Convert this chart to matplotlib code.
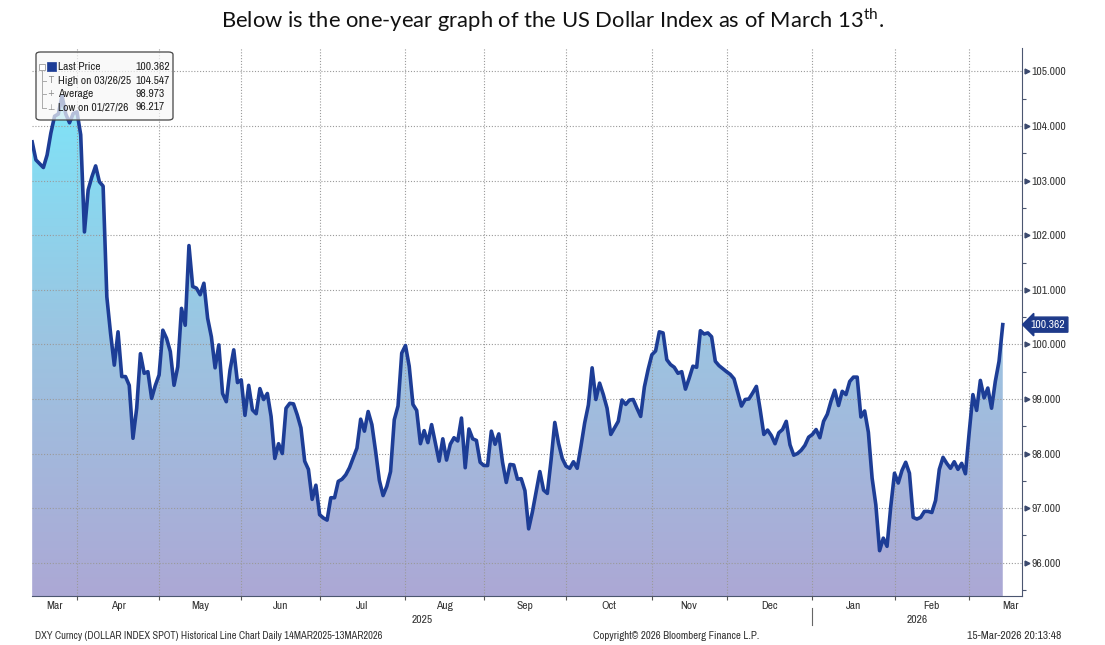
import numpy as np
import pandas as pd
import matplotlib
matplotlib.use("Agg")
import matplotlib.pyplot as plt
from matplotlib import font_manager as fm
from matplotlib.colors import LinearSegmentedColormap
from matplotlib.patches import FancyBboxPatch
from matplotlib.lines import Line2D

# trading-day number (0 = 14 Mar 2025) and DXY close
day = [0, 1, 3, 4, 5, 6, 7, 8, 9, 10, 11, 12, 13, 14, 15, 16, 17, 18, 19, 20,
       21, 22, 23, 24, 25, 26, 27, 28, 29, 30, 31, 32, 33, 34, 35, 36, 37, 38, 39, 40,
       41, 42, 43, 44, 45, 46, 47, 48, 49, 50, 51, 52, 53, 54, 55, 56, 57, 58, 59, 60,
       61, 62, 63, 64, 65, 66, 67, 68, 69, 70, 71, 72, 73, 74, 75, 76, 77, 78, 79, 80,
       81, 82, 83, 84, 85, 86, 87, 88, 89, 90, 91, 92, 93, 94, 95, 96, 97, 98, 99, 100,
       101, 102, 103, 104, 105, 106, 107, 108, 109, 110, 111, 112, 113, 114, 115, 116, 117, 118, 119, 120,
       121, 122, 123, 124, 125, 126, 127, 128, 129, 130, 131, 132, 133, 134, 135, 136, 137, 138, 139, 140,
       141, 142, 143, 144, 145, 146, 147, 148, 149, 150, 151, 152, 153, 154, 155, 156, 157, 158, 159, 160,
       161, 162, 163, 164, 165, 166, 167, 168, 169, 170, 171, 172, 173, 174, 175, 176, 177, 178, 179, 180,
       181, 182, 183, 184, 186, 187, 188, 190, 191, 192, 193, 194, 195, 196, 197, 198, 199, 200,
       201, 202, 203, 204, 205, 206, 207, 208, 209, 210, 211, 212, 213, 214, 215, 216, 217, 218, 219, 220,
       221, 222, 223, 224, 225, 226, 227, 228, 229, 230, 231, 232, 233, 234, 235, 236, 237, 238, 239, 240,
       241, 242, 243, 244, 245, 246, 247, 248, 249, 250, 251, 252, 253, 254, 255, 256, 257, 258, 259, 260]
price = [103.71, 103.38, 103.24, 103.47, 103.87, 104.18, 104.22, 104.55, 104.22, 104.06,
         104.23, 104.26, 103.84, 102.06, 102.83, 103.07, 103.27, 102.98, 102.90, 100.87,
         100.20, 99.62, 100.23, 99.41, 99.41, 99.25, 98.28, 98.83, 99.83, 99.47,
         99.50, 99.01, 99.25, 99.44, 100.26, 100.11, 99.87, 99.25, 99.59, 100.66,
         100.35, 101.81, 101.06, 101.03, 100.91, 101.12, 100.48, 100.14, 99.57, 99.99,
         99.10, 98.95, 99.53, 99.90, 99.30, 99.35, 98.70, 99.25, 98.80, 98.73,
         99.19, 98.99, 99.10, 98.68, 97.91, 98.18, 98.00, 98.83, 98.92, 98.91,
         98.71, 98.47, 97.86, 97.71, 97.16, 97.42, 96.88, 96.82, 96.78, 97.19,
         97.19, 97.49, 97.53, 97.61, 97.74, 97.92, 98.10, 98.63, 98.41, 98.77,
         98.53, 98.04, 97.51, 97.23, 97.40, 97.67, 98.62, 98.87, 99.84, 99.98,
         99.60, 98.90, 98.79, 98.18, 98.42, 98.20, 98.53, 98.19, 97.86, 98.27,
         97.88, 98.17, 98.29, 98.23, 98.65, 97.74, 98.45, 98.27, 98.24, 97.84,
         97.78, 97.78, 98.41, 98.17, 98.36, 97.84, 97.47, 97.80, 97.79, 97.53,
         97.54, 97.32, 96.62, 96.93, 97.30, 97.67, 97.33, 97.27, 97.88, 98.57,
         98.19, 97.91, 97.77, 97.73, 97.85, 97.73, 98.13, 98.56, 98.89, 99.57,
         98.99, 99.29, 99.08, 98.83, 98.35, 98.47, 98.59, 98.98, 98.90, 98.98,
         98.99, 98.83, 98.68, 99.22, 99.54, 99.81, 99.88, 100.23, 100.21, 99.72,
         99.63, 99.58, 99.47, 99.50, 99.18, 99.38, 99.60, 99.58, 100.25, 100.19,
         100.21, 100.14, 99.69, 99.61, 99.50, 99.45, 99.37, 98.87, 98.99, 99.00,
         99.11, 99.23, 98.81, 98.35, 98.43, 98.33, 98.18, 98.38,
         98.44, 98.59, 98.16, 97.97, 98.00, 98.06, 98.15, 98.30, 98.35, 98.44,
         98.29, 98.59, 98.72, 98.96, 99.16, 98.88, 99.14, 99.08, 99.32, 99.40,
         99.40, 98.67, 98.78, 98.39, 97.55, 97.06, 96.22, 96.45, 96.30, 97.03,
         97.64, 97.46, 97.69, 97.84, 97.64, 96.83, 96.80, 96.83, 96.94, 96.94,
         96.92, 97.14, 97.71, 97.93, 97.82, 97.73, 97.85, 97.71, 97.82, 97.63,
         98.38, 99.08, 98.79, 99.34, 99.02, 99.20, 98.83, 99.32, 99.69, 100.362]

start_date = "2025-03-14"
y_ticks = [96, 97, 98, 99, 100, 101, 102, 103, 104, 105]
legend_rows = [("Last Price", "100.362"), ("High on 03/26/25", "104.547"),
               ("Average", "98.973"), ("Low on 01/27/26", "96.217")]
last_price = 100.362

W, H = 1105, 645
plt.rcParams["mathtext.fontset"] = "custom"
plt.rcParams["mathtext.rm"] = "Lato"

# Bloomberg uses a narrow sans; take a regular-weight narrow face if there is one
_narrow = [f for f in fm.fontManager.ttflist
           if "Narrow" in f.name and f.style == "normal" and f.weight in (400, "normal", "regular")]
if _narrow:
    NARROW = {"fname": _narrow[0].fname}
    _scale = 1.0
else:
    NARROW = {"family": "Liberation Sans"}
    _scale = 0.88


def small(size):
    return {"fontproperties": fm.FontProperties(size=size * _scale, **NARROW)}


def fx(px):
    return px / W


def fy(py):
    return 1 - py / H


# business-day positions of month starts
bdays = pd.bdate_range("2025-03-03", "2026-05-29")
pos = np.arange(len(bdays)) - bdays.get_loc(pd.Timestamp(start_date))
month_pos = pd.Series(pos, index=bdays).groupby(bdays.to_period("M")).min()

fig = plt.figure(figsize=(W / 100, H / 100), dpi=100)
ax = fig.add_axes([fx(31.8), fy(596), fx(1021.8) - fx(31.8), fy(48) - fy(596)])
ymin, ymax = 95.39, 105.43

# gradient area under the line
poly = ax.fill_between(day, price, ymin, color="none", lw=0)
cmap = LinearSegmentedColormap.from_list("dxy", ["#aca8d5", "#9cc4e1", "#7de5f9"])
grad = np.linspace(0, 1, 256).reshape(-1, 1)
im = ax.imshow(grad, cmap=cmap, aspect="auto", origin="lower",
               extent=[day[0], day[-1], ymin, 104.7], zorder=1)
im.set_clip_path(poly.get_paths()[0], transform=ax.transData)
ax.set_xlim(-0.1, 265.1)
ax.set_ylim(ymin, ymax)

ax.plot(day, price, color="#1d3d96", lw=2.6, zorder=3, solid_joinstyle="round")

# grid and ticks
grid_months = [p for per, p in month_pos.items() if 0 < p < 262]
ax.set_xticks(grid_months)
ax.set_xticklabels([])
ax.tick_params(axis="x", length=3, color="#555555", width=0.8)
ax.yaxis.tick_right()
ax.set_yticks(y_ticks)
ax.set_yticklabels([f"{v:.3f}" for v in y_ticks], color="#333333")
for lab in ax.get_yticklabels():
    lab.set_fontproperties(small(8.3)["fontproperties"])
ax.set_yticks(np.arange(95.5, 105.5, 1.0), minor=True)
ax.tick_params(axis="y", which="major", length=0, pad=7)
ax.tick_params(axis="y", which="minor", length=3, color="#4b5670", width=0.8)
ax.grid(True, color="#9a9a9a", linestyle=(0, (1, 1.6)), lw=0.8)
ax.set_axisbelow(False)
for s in ["left", "top"]:
    ax.spines[s].set_visible(False)
ax.spines["right"].set_color("#4b5670")
ax.spines["bottom"].set_color("#4b5670")
ax.plot(np.full(len(y_ticks), 1.005), y_ticks, ls="none", marker=">", ms=3.5,
        color="#3c4a6e", transform=ax.get_yaxis_transform(), clip_on=False)

# month and year labels
periods = list(month_pos.index)
for i, per in enumerate(periods[:-2]):
    s, e = month_pos.iloc[i], month_pos.iloc[i + 1]
    if e <= 0 or s > 262:
        continue
    mid = (max(s, 0) + e) / 2
    ax.text(mid, -0.0182, per.strftime("%b"), transform=ax.get_xaxis_transform(),
            ha="center", va="center", color="#333333", **small(8.3))
jan26 = month_pos[pd.Period("2026-01", "M")]
ax.text((0 + jan26) / 2, -0.044, "2025", transform=ax.get_xaxis_transform(),
        ha="center", va="center", color="#333333", **small(8.3))
ax.text((jan26 + 265) / 2, -0.044, "2026", transform=ax.get_xaxis_transform(),
        ha="center", va="center", color="#333333", **small(8.3))
ax.plot([jan26, jan26], [-0.022, -0.053], color="#666666", lw=0.8,
        transform=ax.get_xaxis_transform(), clip_on=False)

# last price tag
ax.text(1.009, last_price, f"{last_price:.3f}", transform=ax.get_yaxis_transform(),
        ha="left", va="center", color="white", zorder=5,
        bbox=dict(boxstyle="larrow,pad=0.22", fc="#1e3a8a", ec="#1e3a8a"), **small(8.3))

# legend box
fig.add_artist(FancyBboxPatch((fx(36), fy(120)), fx(173) - fx(36), fy(52) - fy(120),
                              boxstyle="round,pad=0,rounding_size=0.004",
                              fc=(0.97, 0.97, 0.97, 0.7), ec="#444444", lw=0.9,
                              transform=fig.transFigure, zorder=10))
rows_y = [67, 80.5, 94, 107.5]
fig.add_artist(Line2D([fx(42), fx(42)], [fy(71), fy(108)], color="#aaaaaa", lw=0.7, zorder=11))
for ry in rows_y[1:]:
    fig.add_artist(Line2D([fx(42), fx(46)], [fy(ry), fy(ry)], color="#aaaaaa", lw=0.7, zorder=11))
fig.add_artist(FancyBboxPatch((fx(39), fy(70)), fx(6), fy(64) - fy(70), boxstyle="square,pad=0",
                              fc="white", ec="#999999", lw=0.6, transform=fig.transFigure, zorder=11))
fig.add_artist(FancyBboxPatch((fx(47), fy(71)), fx(9), fy(62) - fy(71), boxstyle="square,pad=0",
                              fc="#1d3d96", ec="#1d3d96", lw=0.5, transform=fig.transFigure, zorder=11))
for sym, ry in zip(["T", "+", "⊥"], rows_y[1:]):
    fig.text(fx(51), fy(ry), sym, ha="center", va="center", color="#888888", zorder=12,
             family=["DejaVu Sans"], fontsize=6)
for (lab, val), ry in zip(legend_rows, rows_y):
    fig.text(fx(58), fy(ry), lab, ha="left", va="center", color="#222222", zorder=12, **small(8.3))
    fig.text(fx(135), fy(ry), val, ha="left", va="center", color="#222222", zorder=12, **small(8.3))

# title and footer
fig.text(0.5, fy(20), r"Below is the one-year graph of the US Dollar Index as of March 13$^{\mathrm{th}}$.",
         ha="center", va="center", fontsize=15.8, family="Lato", color="#111111")
fig.text(fx(35), fy(636), "DXY Curncy (DOLLAR INDEX SPOT) Historical Line Chart Daily 14MAR2025-13MAR2026",
         ha="left", va="center", color="#333333", **small(7.55))
fig.text(fx(676), fy(636), "Copyright© 2026 Bloomberg Finance L.P.",
         ha="center", va="center", color="#333333", **small(7.8))
fig.text(fx(1061), fy(636), "15-Mar-2026 20:13:48",
         ha="right", va="center", color="#333333", **small(8.3))

fig.savefig("out.png", dpi=100)
